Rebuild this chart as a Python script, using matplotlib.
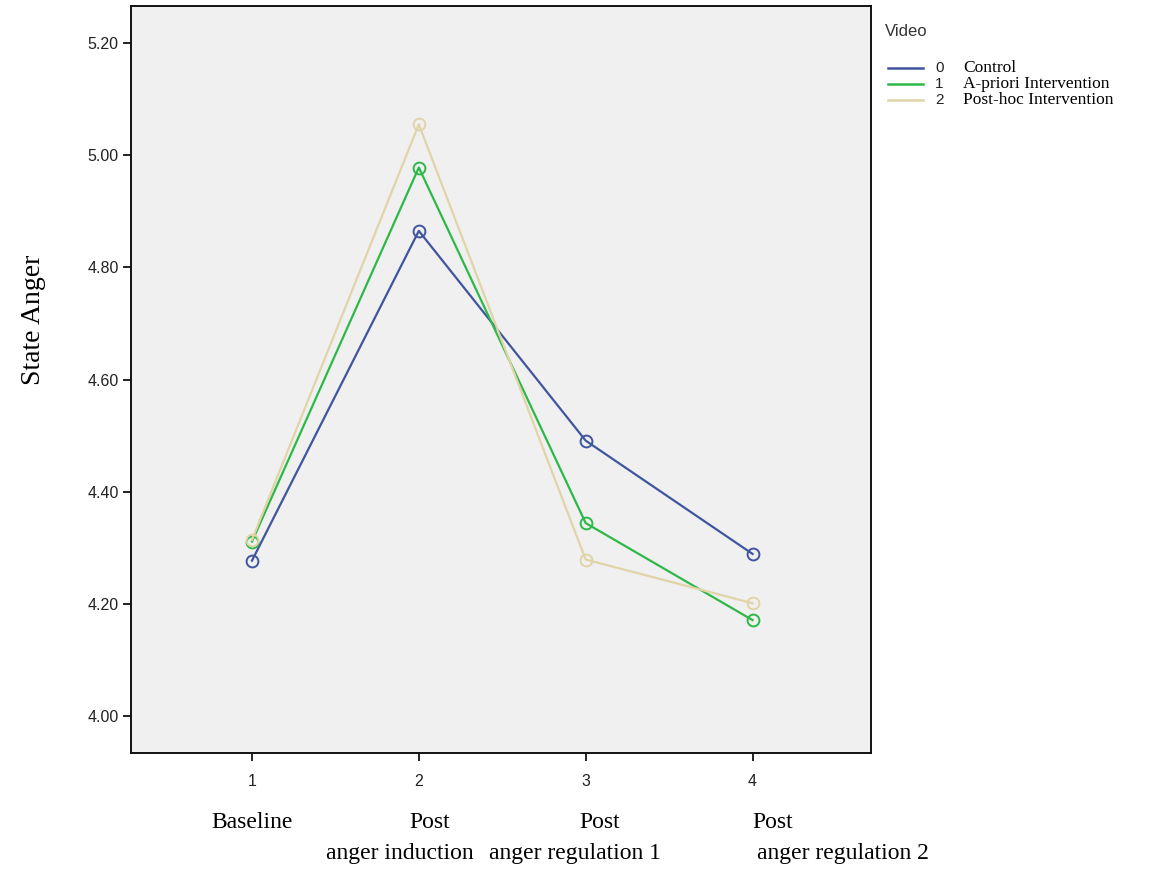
import numpy as np
import matplotlib
matplotlib.use("Agg")
import matplotlib.pyplot as plt
from matplotlib.lines import Line2D

# data
times = [1, 2, 3, 4]
control = [4.277, 4.865, 4.491, 4.289]
a_priori = [4.311, 4.978, 4.344, 4.171]
post_hoc = [4.314, 5.055, 4.279, 4.201]
yticks = [4.00, 4.20, 4.40, 4.60, 4.80, 5.00, 5.20]
series_codes = ["0", "1", "2"]
series_names = ["Control", "A-priori Intervention", "Post-hoc Intervention"]
time_top = ["Baseline", "Post", "Post", "Post"]
time_bottom = ["", "anger induction", "anger regulation 1", "anger regulation 2"]

colors = ["#40559f", "#2eb848", "#e0d4a8"]
W, H = 1156, 871

fig = plt.figure(figsize=(W / 100, H / 100), dpi=100)
ax = fig.add_axes([131 / W, 1 - 753 / H, (871 - 131) / W, (753 - 6) / H])
ax.set_facecolor("#f0f0f0")

for vals, c in zip([control, a_priori, post_hoc], colors):
    ax.plot(times, vals, color=c, lw=1.6, marker="o", ms=8.5,
            mfc="none", mec=c, mew=1.4)

ax.set_xlim(0.275, 4.71)
ax.set_ylim(3.934, 5.266)
ax.set_xticks(times)
ax.set_xticklabels([str(t) for t in times], family="Liberation Sans",
                   fontsize=11.5, color="#222")
ax.set_yticks(yticks)
ax.set_yticklabels(["%.2f" % v for v in yticks], family="Liberation Sans",
                   fontsize=11.5, color="#222")
ax.tick_params(length=6, width=1.3, color="#111", pad=3)
ax.tick_params(axis="x", pad=9)
for s in ax.spines.values():
    s.set_linewidth(1.4)
    s.set_color("#111")

fig.text(33 / W, 1 - 320 / H, "State Anger", rotation=90, ha="center",
         va="center", family="Liberation Serif", fontsize=20)

# category texts under the x axis
top_x = [252, 430, 600, 773]
bot_x = [0, 400, 575, 843]
for i in range(4):
    fig.text(top_x[i] / W, 1 - 822 / H, time_top[i], ha="center", va="center",
             family="Liberation Serif", fontsize=17)
    if time_bottom[i]:
        fig.text(bot_x[i] / W, 1 - 853 / H, time_bottom[i], ha="center",
                 va="center", family="Liberation Serif", fontsize=17)

# legend drawn by hand
fig.text(885 / W, 1 - 31 / H, "Video", ha="left", va="center",
         family="Liberation Sans", fontsize=12, color="#333")
rows = [68, 84, 100]
for y, code, name, c in zip(rows, series_codes, series_names, colors):
    fig.add_artist(Line2D([888 / W, 923 / W], [1 - y / H, 1 - y / H],
                          color=c, lw=1.8))
    fig.text(935 / W, 1 - y / H, code, ha="left", va="center",
             family="Liberation Sans", fontsize=11, color="#222")
    fig.text(963 / W, 1 - y / H, name, ha="left", va="center",
             family="Liberation Serif", fontsize=12.5)

fig.savefig("out.png", dpi=100)
